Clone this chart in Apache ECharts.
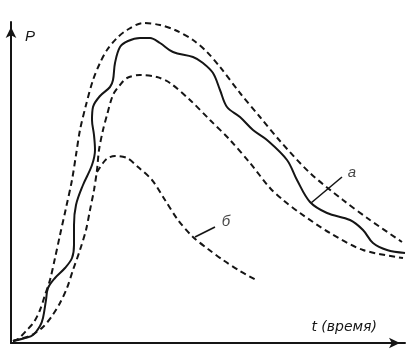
<!DOCTYPE html>
<html><head><meta charset="utf-8">
<script src="https://cdn.jsdelivr.net/npm/echarts@6/dist/echarts.min.js"></script>
<style>html,body{margin:0;padding:0;background:#fff}#c{width:419px;height:351px}</style>
</head><body><div id="c"></div>
<script>
// arbitrary units: t (time) along x, P along y
const curveOuter = [[2,2],[7,4],[16,13],[23,21],[29,33],[34,48],[39,63],[44,85],[49,108],[55,135],[61,163],[65,188],[69,213],[75,238],[82,263],[89,280],[96,293],[106,305],[116,313],[132,320],[149,318],[164,313],[182,303],[196,291],[209,276],[229,250],[249,226],[269,202],[299,170],[332,143],[359,123],[391,101]];
const curveA = [[2,2],[14,5],[22,8],[29,17],[32,25],[35,43],[37,55],[44,65],[54,75],[61,85],[63,98],[63,118],[65,138],[72,158],[81,178],[84,193],[83,208],[81,223],[82,236],[89,247],[99,256],[102,263],[104,280],[109,296],[117,302],[129,305],[139,305],[149,300],[162,291],[182,286],[192,280],[202,270],[209,253],[216,236],[229,226],[242,213],[256,203],[276,183],[286,163],[299,141],[316,130],[339,123],[352,113],[362,100],[376,93],[394,90]];
const curveInner = [[2,2],[9,4],[21,8],[32,16],[41,27],[49,40],[56,55],[62,73],[69,93],[75,113],[79,133],[83,153],[86,173],[88,193],[92,213],[96,228],[102,248],[109,258],[116,265],[129,268],[146,266],[159,260],[179,243],[199,223],[219,203],[239,180],[259,155],[272,143],[289,130],[319,110],[352,93],[392,85]];
const curveB = [[86,171],[92,180],[97,185],[104,187],[116,185],[127,176],[141,163],[154,143],[167,123],[182,106],[197,94],[212,83],[229,72],[245,63]];
const leaderA = [[300,140],[331,166]];
const leaderB = [[184,106],[204,116]];
const labelA = [[341,170,'а']];
const labelB = [[215,121,'б']];
const yName = 'P';
const xName = 't (время)';

const ink = '#151515';
const font = 'Liberation Sans';
const dashed = (data) => ({type:'line', data, smooth:0.3, showSymbol:false, clip:false,
  lineStyle:{color:ink, width:2, type:[6,4]}});
const chart = echarts.init(document.getElementById('c'));
chart.setOption({
  animation:false,
  grid:{left:11, right:14, top:22, bottom:8},
  xAxis:{type:'value', min:0, max:394,
    axisLine:{show:true, onZero:false, symbol:['none','arrow'], symbolSize:[8,11], symbolOffset:[0,-5], lineStyle:{color:ink, width:2}},
    axisTick:{show:false}, axisLabel:{show:false}, splitLine:{show:false},
    name:xName, nameLocation:'end', nameGap:-28,
    nameTextStyle:{fontFamily:'DejaVu Sans', fontStyle:'italic', fontSize:14, color:ink, align:'right', verticalAlign:'bottom', padding:[0,0,9,0]}},
  yAxis:{type:'value', min:0, max:321,
    axisLine:{show:true, onZero:false, symbol:['none','arrow'], symbolSize:[8,11], symbolOffset:[0,-5], lineStyle:{color:ink, width:2}},
    axisTick:{show:false}, axisLabel:{show:false}, splitLine:{show:false},
    name:yName, nameLocation:'end', nameGap:-22,
    nameTextStyle:{fontFamily:font, fontStyle:'italic', fontSize:15, color:ink, align:'left', padding:[0,0,0,14]}},
  series:[
    dashed(curveOuter),
    dashed(curveInner),
    dashed(curveB),
    {type:'line', data:curveA, smooth:0.35, showSymbol:false, clip:false, lineStyle:{color:ink, width:2}},
    {type:'line', data:leaderA, showSymbol:false, lineStyle:{color:ink, width:1.6}},
    {type:'line', data:leaderB, showSymbol:false, lineStyle:{color:ink, width:1.6}},
    {type:'scatter', data:labelA.concat(labelB), symbolSize:0,
      label:{show:true, position:'inside', formatter:p=>p.data[2], fontFamily:font, fontStyle:'italic', fontSize:15, color:ink}}
  ]
});
</script></body></html>
